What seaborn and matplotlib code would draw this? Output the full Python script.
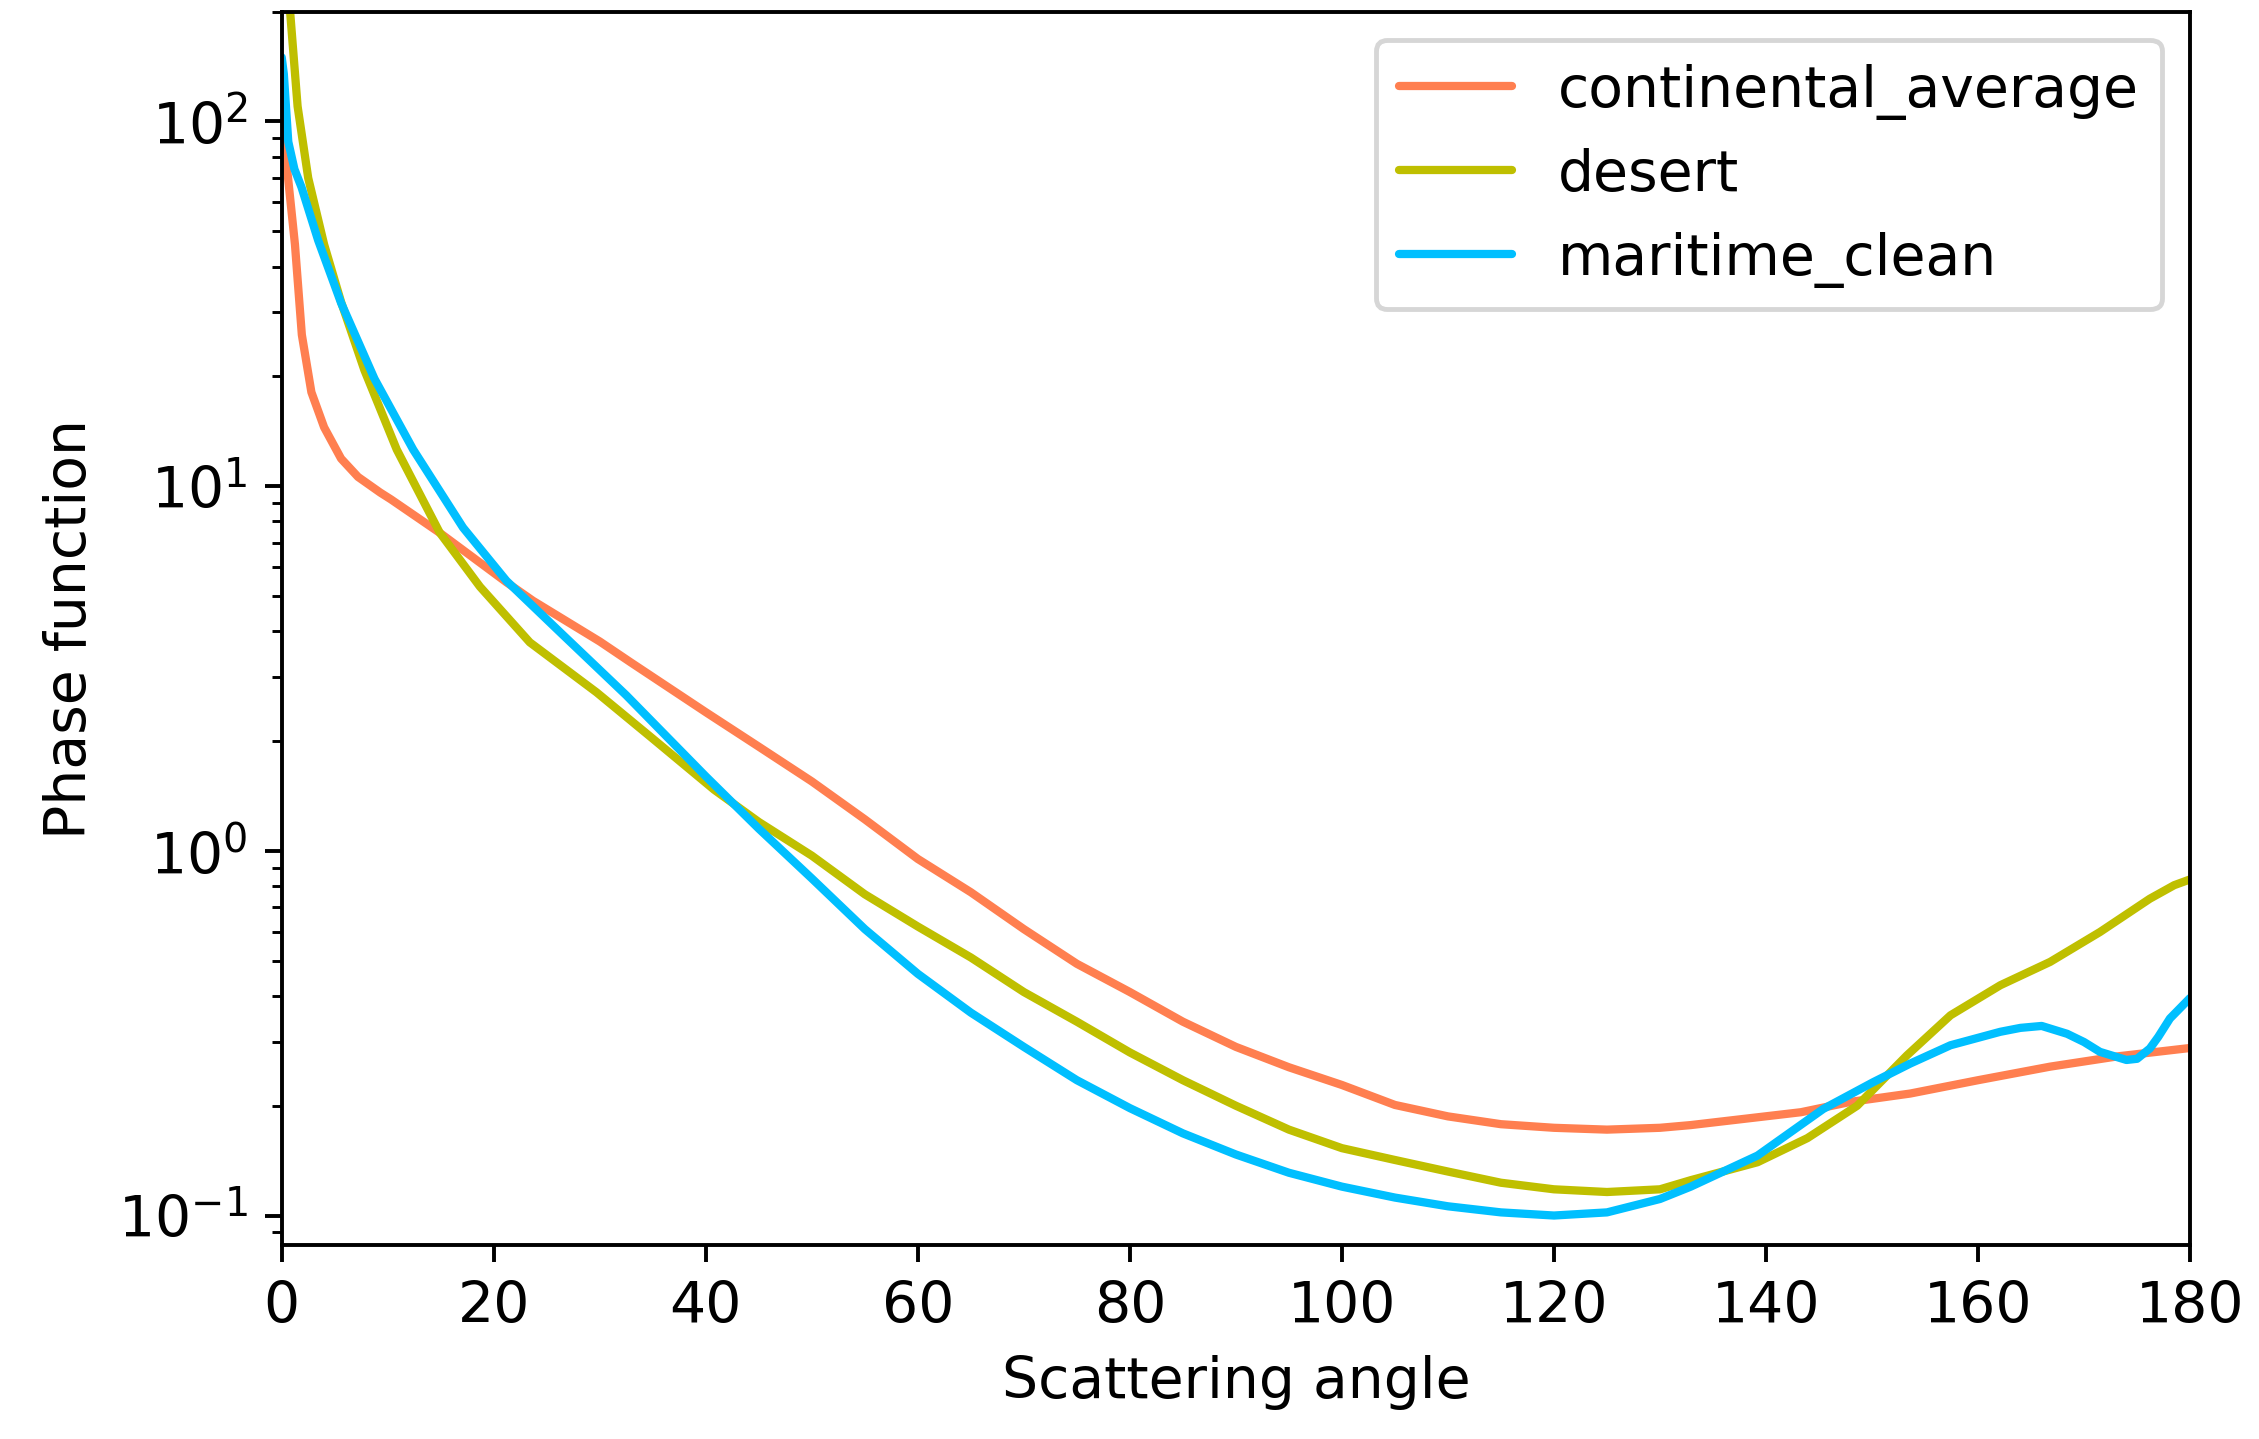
import numpy as np
import pandas as pd
import matplotlib
matplotlib.use("Agg")
import matplotlib.pyplot as plt
import seaborn as sns

# phase function values
angle_ca = [0, 0.6, 1.25, 1.9, 2.8, 4, 5.6, 7.2, 9.3, 10.3, 14.9, 21.2, 23.7, 30, 32.9,
            40, 45, 50, 55, 60, 65, 70, 75, 80, 85, 90, 95, 100, 105, 110, 115, 120,
            125, 130, 132.9, 143.3, 148, 153.6, 160, 166.8, 173.1, 180]
continental_average = [98, 70, 46, 26, 18.1, 14.5, 11.9, 10.6, 9.6, 9.2, 7.45, 5.45, 4.85,
                       3.75, 3.29, 2.4, 1.93, 1.55, 1.22, 0.95, 0.77, 0.61, 0.49, 0.41,
                       0.34, 0.29, 0.255, 0.228, 0.201, 0.187, 0.178, 0.174, 0.172, 0.174,
                       0.177, 0.192, 0.205, 0.216, 0.235, 0.256, 0.273, 0.288]

angle_de = [0, 0.8, 1.5, 2.5, 4, 5.6, 7.8, 10.85, 14.9, 18.7, 23.4, 29.7, 35, 40.8, 45,
            50, 55, 60, 65, 70, 75, 80, 85, 90, 95, 100, 105, 110, 115, 120, 125, 130,
            132.9, 139.2, 143.9, 148.6, 153.3, 157.4, 162.1, 166.8, 171.5, 176.2, 178.5,
            180]
desert = [360, 199, 110, 70, 46, 32, 20.8, 12.6, 7.46, 5.3, 3.73, 2.72, 2.03, 1.47, 1.2,
          0.97, 0.76, 0.62, 0.51, 0.41, 0.34, 0.28, 0.235, 0.2, 0.172, 0.153, 0.142,
          0.132, 0.123, 0.118, 0.116, 0.118, 0.125, 0.140, 0.163, 0.2, 0.275, 0.354,
          0.428, 0.496, 0.599, 0.739, 0.805, 0.835]

angle_mc = [0, 0.2, 0.62, 1.2, 1.87, 3.44, 5.6, 8.75, 12.4, 17.1, 21.2, 26.6, 32.5, 40,
            45, 50, 55, 60, 65, 70, 75, 80, 85, 90, 95, 100, 105, 110, 115, 120, 125,
            130, 132.9, 139.2, 145.4, 150.1, 153.6, 157.4, 162.1, 164, 166, 168.4, 170,
            171.5, 174, 175, 176.2, 177, 178.1, 180]
maritime_clean = [150, 135, 88, 74, 66, 47.2, 31.8, 19.7, 12.6, 7.7, 5.5, 3.89, 2.67, 1.6,
                  1.15, 0.84, 0.61, 0.46, 0.36, 0.29, 0.235, 0.197, 0.168, 0.147, 0.131,
                  0.12, 0.112, 0.106, 0.102, 0.1, 0.102, 0.111, 0.12, 0.146, 0.196, 0.232,
                  0.261, 0.293, 0.319, 0.327, 0.331, 0.315, 0.299, 0.281, 0.267, 0.269,
                  0.287, 0.309, 0.347, 0.395]

series = [
    ("continental_average", angle_ca, continental_average, "coral"),
    ("desert", angle_de, desert, "y"),
    ("maritime_clean", angle_mc, maritime_clean, "deepskyblue"),
]

sns.set_style("ticks", rc={"axes.edgecolor": "black", "xtick.color": "black",
                           "ytick.color": "black", "text.color": "black",
                           "axes.labelcolor": "black"})
plt.rcParams["font.family"] = ["DejaVu Sans"]
plt.rcParams["font.size"] = 11.7

fig, ax = plt.subplots(figsize=(2259 / 350, 1440 / 350), dpi=350)
fig.subplots_adjust(left=0.1247, right=0.9695, top=0.9912, bottom=0.1347)

for name, x, y, c in series:
    df = pd.DataFrame({"angle": x, "phase": y})
    sns.lineplot(data=df, x="angle", y="phase", color=c, label=name, lw=1.7, ax=ax)

ax.set_yscale("log")
ax.set_xlim(0, 180)
ax.set_ylim(0.083, 200)
ax.set_xticks(np.arange(0, 181, 20))
ax.set_xlabel("Scattering angle")
ax.set_ylabel("Phase function")
ax.legend(loc="upper right")

fig.savefig("out.png", dpi=350)
